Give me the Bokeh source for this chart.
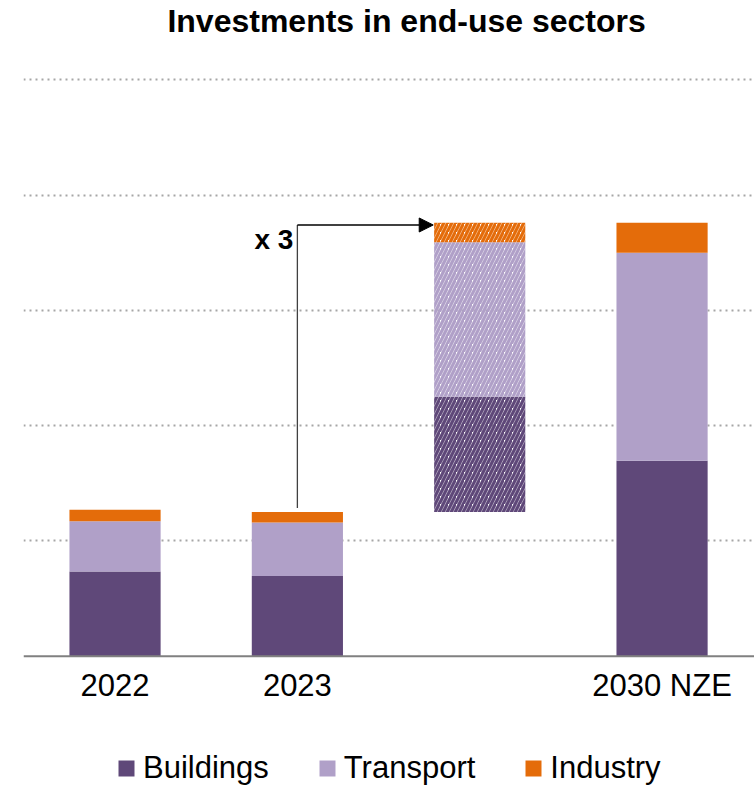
from bokeh.plotting import figure
from bokeh.models import (ColumnDataSource, Legend, LegendItem, FixedTicker, Range1d,
                          Arrow, NormalHead, Label, Span)
from bokeh.core.properties import value
from bokeh.embed import file_html
from bokeh.resources import INLINE

# ---- data (USD billion) ----
categories = ["2022", "2023", "2030 NZE"]
sectors = ["Buildings", "Transport", "Industry"]
buildings = [147, 139, 339]
transport = [87, 93, 361]
industry = [20, 18, 52]
grid_ticks = [200, 400, 600, 800, 1000]
multiplier_label = "x 3"
title_text = "Investments in end-use sectors"

# ---- styles / layout ----
colors = ["#5F4879", "#B0A0C8", "#E46C0A"]
FONT = "Liberation Sans"
slots = [0, 1, 3]        # slot index of each category
bridge_slot = 2          # slot of the hatched "increase" bar
BAR_W = 0.5

src = ColumnDataSource(dict(x=slots, cat=categories, Buildings=buildings,
                            Transport=transport, Industry=industry))

p = figure(frame_width=731, frame_height=786, output_backend="svg",
           toolbar_location=None, x_range=Range1d(-0.502, 3.507),
           y_range=Range1d(-226, 1137.4), min_border=0, min_border_left=23,
           x_axis_location=None, y_axis_location=None, outline_line_color=None)

# grid
p.xgrid.visible = False
p.ygrid.ticker = FixedTicker(ticks=grid_ticks)
p.ygrid.grid_line_color = "#A6A6A6"
p.ygrid.grid_line_width = 2
p.ygrid.grid_line_dash = "2 4"

# solid stacked bars
rs = p.vbar_stack(sectors, x="x", width=BAR_W, source=src, fill_color=colors,
                  line_color=None)

# hatched bridge bar: increase from 2023 to 2030 NZE by sector
inc = [buildings[2] - buildings[1], transport[2] - transport[1], industry[2] - industry[1]]
total23 = buildings[1] + transport[1] + industry[1]
total30 = buildings[2] + transport[2] + industry[2]
bottoms, tops = [], []
acc = total23
for v in inc:
    bottoms.append(acc)
    acc += v
    tops.append(acc)
hsrc = ColumnDataSource(dict(x=[bridge_slot] * 3, bottom=bottoms, top=tops, color=colors))
p.vbar(x="x", bottom="bottom", top="top", width=BAR_W, source=hsrc,
       fill_color=None, line_color=None, hatch_pattern="/", hatch_color="color",
       hatch_scale=8, hatch_weight=3.2)

# baseline (category axis line)
p.add_layout(Span(location=0, dimension="width", line_color="#808080", line_width=2))

# category labels under the baseline
p.text(x="x", y=0, text="cat", source=src, y_offset=29, text_align="center",
       text_baseline="middle", text_font=value(FONT), text_font_size="31px",
       text_color="black")

# elbow arrow from the 2023 bar to the bridge bar
arrow_y = total30 - 4
p.line(x=[slots[1], slots[1]], y=[total23 + 7, arrow_y], line_color="#404040", line_width=1.3)
p.add_layout(Arrow(end=NormalHead(size=14, fill_color="black", line_color="black"),
                   x_start=slots[1], y_start=arrow_y,
                   x_end=bridge_slot - BAR_W / 2 - 0.005, y_end=arrow_y,
                   line_color="black", line_width=1.3))
p.add_layout(Label(x=slots[1], y=arrow_y, x_offset=-4, y_offset=-15, text=multiplier_label,
                   text_align="right", text_baseline="middle", text_font=FONT,
                   text_font_style="bold", text_font_size="28px", text_color="black"))

# title
p.add_layout(Label(x=1.599, y=1101, text=title_text, text_align="center",
                   text_baseline="middle", text_font=FONT, text_font_style="bold",
                   text_font_size="32px", text_color="black"))

# legend at the bottom (location is relative to the frame's bottom-left corner)
legend = Legend(items=[LegendItem(label=s, renderers=[r]) for s, r in zip(sectors, rs)],
                orientation="horizontal", location=(93, 0), glyph_width=20,
                glyph_height=20, label_standoff=7, spacing=48,
                label_text_font=FONT, label_text_font_size="31px",
                label_text_color="black", border_line_color=None,
                background_fill_alpha=0, margin=0, padding=0)
p.add_layout(legend, "center")

open("out.html", "w").write(file_html(p, INLINE))
